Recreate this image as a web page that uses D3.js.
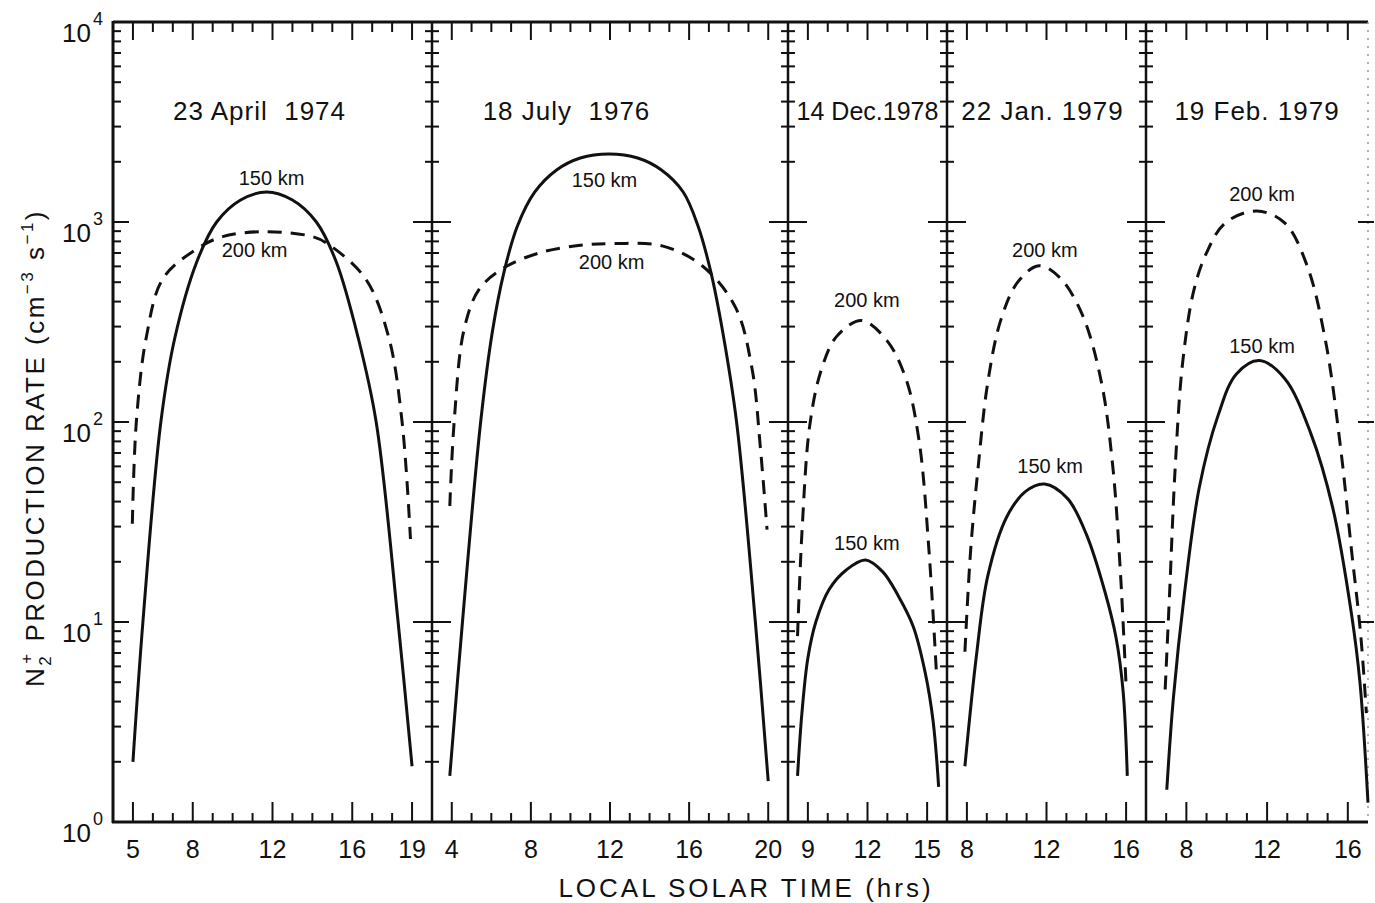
<!DOCTYPE html>
<html>
<head>
<meta charset="utf-8">
<script src="https://cdn.jsdelivr.net/npm/d3@7"></script>
<style>
  body { margin: 0; background: #fff; }
  text { font-family: "Liberation Sans", Arial, sans-serif; fill: #111; }
</style>
</head>
<body>
<svg id="chart" width="1375" height="903"></svg>
<script>
// ---- data ----
const titles = ["23 April  1974", "18 July  1976", "14 Dec.1978", "22 Jan. 1979", "19 Feb. 1979"];
const hourDomains = [[4, 20], [3, 21], [8, 16], [7, 17], [6, 17]];
const labeledHours = [[5, 8, 12, 16, 19], [4, 8, 12, 16, 20], [9, 12, 15], [8, 12, 16], [8, 12, 16]];
const decades = [1, 10, 100, 1000, 10000];
const exponents = ["0", "1", "2", "3", "4"];

// [local solar time (hrs), production rate]
const apr74_150 = [[5.0, 2.0], [5.5, 10], [6.4, 100], [7.1, 263], [8.2, 631], [9.2, 1000], [10.4, 1288], [11.7, 1413],
                   [13.0, 1288], [14.2, 1000], [15.2, 631], [16.3, 263], [17.2, 100], [18.3, 10], [19.0, 1.9]];
const apr74_200 = [[4.97, 31], [5.17, 100], [5.67, 265], [6.5, 520], [8.17, 730], [9.5, 845], [11.67, 895], [14.0, 845],
                   [14.83, 770], [16.67, 520], [17.83, 265], [18.5, 100], [18.92, 26]];
const jul76_150 = [[3.9, 1.7], [4.54, 10], [5.46, 100], [6.05, 282], [6.64, 562], [7.32, 955], [8.2, 1413], [9.3, 1820],
                   [10.5, 2089], [11.95, 2188], [13.4, 2089], [14.6, 1820], [15.7, 1413], [16.45, 955], [17.1, 562],
                   [17.7, 282], [18.4, 100], [19.35, 10], [20.0, 1.6]];
const jul76_200 = [[3.9, 38], [4.12, 100], [4.62, 290], [5.38, 460], [6.64, 590], [8.41, 700], [10.5, 765], [12.28, 780],
                   [14.64, 760], [16.66, 604], [18.34, 375], [19.18, 185], [19.6, 75], [19.94, 29]];
const dec78_150 = [[8.48, 1.7], [8.7, 3.5], [9.0, 6.6], [9.4, 10], [10.06, 14.5], [10.93, 18.2], [11.9, 20.4], [12.77, 17.8],
                   [13.55, 13.5], [14.3, 9.5], [14.9, 5.6], [15.3, 3.2], [15.58, 1.5]];
const dec78_200 = [[8.48, 8.5], [8.71, 29], [9.1, 97], [9.68, 183], [10.45, 268], [11.7, 322], [12.97, 256], [13.93, 165],
                   [14.6, 80], [15.09, 23], [15.48, 5.3]];
const jan79_150 = [[7.9, 1.9], [8.48, 6.8], [9.05, 17], [10.0, 33.5], [10.95, 45], [11.9, 49], [13.05, 41.5], [14.0, 27.5],
                   [14.95, 14], [15.5, 8.3], [15.85, 4.5], [16.06, 1.7]];
const jan79_200 = [[7.9, 7.1], [8.19, 23], [8.57, 60], [9.05, 158], [9.71, 325], [10.57, 503], [11.62, 605], [12.67, 527],
                   [13.81, 342], [14.76, 158], [15.33, 60], [15.71, 18], [16.0, 4.8]];
const feb79_150 = [[7.03, 1.45], [7.36, 4.2], [7.91, 14], [8.64, 47], [9.56, 107], [10.48, 174], [11.62, 203], [12.87, 165],
                   [14.16, 88], [15.26, 37], [16.18, 11], [16.6, 5.0], [17.0, 1.25]];
const feb79_200 = [[6.95, 4.6], [7.17, 14], [7.45, 60], [7.82, 200], [8.37, 455], [9.01, 705], [9.93, 990], [11.49, 1135],
                   [12.87, 990], [13.97, 610], [14.89, 256], [15.63, 76], [16.18, 23], [16.64, 8.6], [16.92, 3.5]];

const series150 = [apr74_150, jul76_150, dec78_150, jan79_150, feb79_150];
const series200 = [apr74_200, jul76_200, dec78_200, jan79_200, feb79_200];

// curve label anchors [hrs, rate]
const labels150 = [[11.95, 1660], [11.72, 1622], [11.97, 24.8], [12.18, 60], [11.75, 240]];
const labels200 = [[11.1, 724], [12.08, 631], [11.97, 407], [11.92, 724], [11.75, 1380]];
const titleHours = [11.35, 9.8, 12.0, 11.8, 11.5];

// ---- layout ----
const edges = [113, 432, 788, 947, 1146, 1368];
const yTop = 22, yBottom = 822;

const svg = d3.select("#chart");
const y = d3.scaleLog().domain([1, 1e4]).range([yBottom, yTop]);
const yTicks = y.ticks();   // 1,2,...,9,10,20,...,10000
const isDecade = d => decades.includes(d);

const ink = "#111";

// frame: top and bottom lines, left axis
svg.append("line").attr("x1", edges[0]).attr("x2", edges[5]).attr("y1", yTop).attr("y2", yTop)
    .attr("stroke", ink).attr("stroke-width", 3);
svg.append("line").attr("x1", edges[0] - 1).attr("x2", edges[5]).attr("y1", yBottom).attr("y2", yBottom)
    .attr("stroke", ink).attr("stroke-width", 3);
svg.append("line").attr("x1", edges[0]).attr("x2", edges[0]).attr("y1", yTop - 1).attr("y2", yBottom + 1)
    .attr("stroke", ink).attr("stroke-width", 3);

// left axis ticks (inward)
svg.append("g").selectAll("line").data(yTicks.filter(d => d > 1 && d < 1e4)).join("line")
    .attr("x1", edges[0]).attr("x2", d => edges[0] + (isDecade(d) ? 16 : 8))
    .attr("y1", d => y(d)).attr("y2", d => y(d))
    .attr("stroke", ink).attr("stroke-width", 2);

// y tick labels 10^n
const yLab = svg.append("g");
decades.forEach((d, i) => {
    yLab.append("text").attr("x", 91).attr("y", y(d) + 20)
        .attr("text-anchor", "end").attr("font-size", 26).text("10");
    yLab.append("text").attr("x", 93).attr("y", y(d) + 3)
        .attr("font-size", 18).text(exponents[i]);
});

// panel dividers with crossing ticks
edges.slice(1, 5).forEach(xe => {
    svg.append("line").attr("x1", xe).attr("x2", xe).attr("y1", yTop).attr("y2", yBottom)
        .attr("stroke", ink).attr("stroke-width", 2.5);
    svg.append("g").selectAll("line").data(yTicks.filter(d => d > 1 && d < 1e4)).join("line")
        .attr("x1", d => xe - (isDecade(d) ? 19 : 7)).attr("x2", d => xe + (isDecade(d) ? 19 : 7))
        .attr("y1", d => y(d)).attr("y2", d => y(d))
        .attr("stroke", ink).attr("stroke-width", 2);
});

// right edge: faint dotted line with decade ticks
svg.append("line").attr("x1", edges[5]).attr("x2", edges[5]).attr("y1", yTop).attr("y2", yBottom)
    .attr("stroke", "#999").attr("stroke-width", 1.5).attr("stroke-dasharray", "2,6");
svg.append("g").selectAll("line").data([10, 100, 1000]).join("line")
    .attr("x1", edges[5] - 10).attr("x2", edges[5] + 6)
    .attr("y1", d => y(d)).attr("y2", d => y(d))
    .attr("stroke", ink).attr("stroke-width", 2);

const line = d3.line().curve(d3.curveCatmullRom.alpha(0.5));

titles.forEach((title, i) => {
    const x = d3.scaleLinear().domain(hourDomains[i]).range([edges[i], edges[i + 1]]);
    const hrs = d3.range(Math.ceil(hourDomains[i][0] + 0.01), Math.floor(hourDomains[i][1] - 0.01) + 1);
    const major = h => labeledHours[i].includes(h);
    const g = svg.append("g");

    // bottom ticks (upward)
    g.append("g").selectAll("line").data(hrs).join("line")
        .attr("x1", d => x(d)).attr("x2", d => x(d))
        .attr("y1", yBottom).attr("y2", d => yBottom - (major(d) ? 20 : 9))
        .attr("stroke", ink).attr("stroke-width", 2);
    // top ticks (downward)
    g.append("g").selectAll("line").data(hrs).join("line")
        .attr("x1", d => x(d)).attr("x2", d => x(d))
        .attr("y1", yTop).attr("y2", d => yTop + (major(d) ? 18 : 10))
        .attr("stroke", ink).attr("stroke-width", 2);
    // tick labels
    g.append("g").selectAll("text").data(labeledHours[i]).join("text")
        .attr("x", d => x(d)).attr("y", 858)
        .attr("text-anchor", "middle").attr("font-size", 25)
        .text(d => d);

    // title
    g.append("text").attr("x", x(titleHours[i])).attr("y", 120)
        .attr("text-anchor", "middle").attr("font-size", i === 2 ? 25 : 26)
        .attr("letter-spacing", i === 2 ? 0 : 1)
        .style("white-space", "pre").text(title);

    const pts = s => s.map(p => [x(p[0]), y(p[1])]);

    // 200 km dashed
    g.append("path").attr("d", line(pts(series200[i])))
        .attr("fill", "none").attr("stroke", ink).attr("stroke-width", 3)
        .attr("stroke-dasharray", "14,9");
    // 150 km solid
    g.append("path").attr("d", line(pts(series150[i])))
        .attr("fill", "none").attr("stroke", ink).attr("stroke-width", 3);

    g.append("text").attr("x", x(labels150[i][0])).attr("y", y(labels150[i][1]))
        .attr("text-anchor", "middle").attr("dominant-baseline", "central")
        .attr("font-size", 20).text("150 km");
    g.append("text").attr("x", x(labels200[i][0])).attr("y", y(labels200[i][1]))
        .attr("text-anchor", "middle").attr("dominant-baseline", "central")
        .attr("font-size", 20).text("200 km");
});

// axis titles
svg.append("text").attr("x", 746).attr("y", 897)
    .attr("text-anchor", "middle").attr("font-size", 26).attr("letter-spacing", 3)
    .text("LOCAL SOLAR TIME (hrs)");

const yt = svg.append("text").attr("transform", "translate(44,448) rotate(-90)")
    .attr("text-anchor", "middle").attr("font-size", 26).attr("letter-spacing", 2.5);
yt.append("tspan").text("N");
yt.append("tspan").attr("font-size", 17).attr("dy", 7).text("2");
yt.append("tspan").attr("font-size", 17).attr("dx", -10).attr("dy", -19).text("+");
yt.append("tspan").attr("dy", 12).text("  PRODUCTION  RATE  (cm");
yt.append("tspan").attr("font-size", 17).attr("dy", -11).text("−3");
yt.append("tspan").attr("dy", 11).text(" s");
yt.append("tspan").attr("font-size", 17).attr("dy", -11).text("−1");
yt.append("tspan").attr("dy", 11).text(")");
</script>
</body>
</html>
